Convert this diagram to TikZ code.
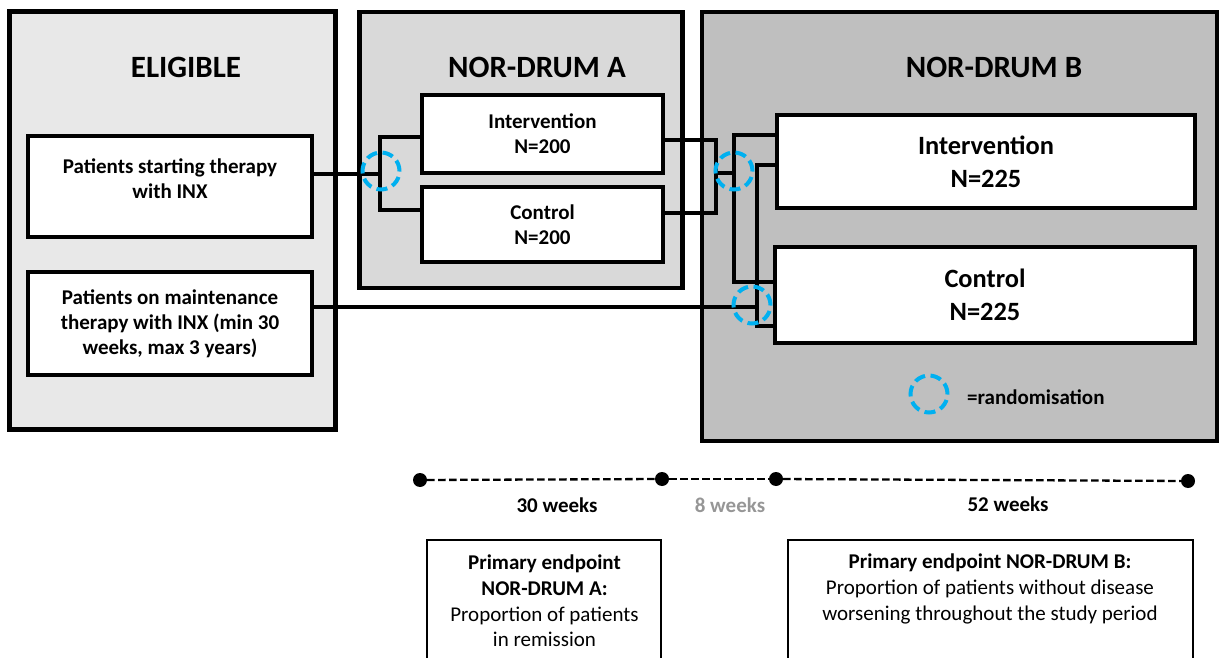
\documentclass[tikz,border=0pt]{standalone}
\usepackage{fontspec}
\setmainfont{Carlito}
\usetikzlibrary{shadows}
\definecolor{eligfill}{RGB}{232,232,232}
\definecolor{afill}{RGB}{217,217,217}
\definecolor{bfill}{RGB}{191,191,191}
\definecolor{randc}{RGB}{0,176,240}
\definecolor{greytxt}{RGB}{150,150,150}
\begin{document}
\begin{tikzpicture}[x=1pt,y=-1pt,
  outerbox/.style={draw=black, line width=4.5pt, rectangle, inner sep=0pt, outer sep=0pt,
    drop shadow={shadow xshift=2pt,shadow yshift=-2pt,opacity=0.2}},
  innerbox/.style={draw=black, fill=white, line width=3.5pt, rectangle, inner sep=0pt, outer sep=0pt, align=center,
    font=\fontsize{21}{25}\selectfont\bfseries,
    drop shadow={shadow xshift=2pt,shadow yshift=-2pt,opacity=0.25}},
  bigbox/.style={innerbox, font=\fontsize{26.4}{33}\selectfont\bfseries},
  titletxt/.style={font=\fontsize{31}{36}\selectfont\bfseries, inner sep=0pt},
  conn/.style={draw=black, line width=3.3pt},
  randcircle/.style={circle, draw=randc, line width=4pt, dash pattern=on 11pt off 5.5pt, minimum size=37pt, inner sep=0pt},
  tdot/.style={circle, fill=black, minimum size=14pt, inner sep=0pt},
  tline/.style={draw=black, line width=2.3pt, dash pattern=on 7.5pt off 3.5pt},
  weektxt/.style={font=\fontsize{21}{25}\selectfont\bfseries, inner sep=0pt},
  epbox/.style={draw=black, line width=1.6pt, rectangle, inner sep=0pt, outer sep=0pt},
  eptxt/.style={font=\fontsize{21}{25.7}\selectfont, align=center, inner sep=0pt}
]
\useasboundingbox (0,0) rectangle (1219,658);

% outer panels
\node[outerbox, fill=eligfill, minimum width=326pt, minimum height=418pt] (elig) at (172.5,220.5) {};
\node[outerbox, fill=afill, minimum width=323pt, minimum height=276pt] (panA) at (521,150) {};
\node[outerbox, fill=bfill, minimum width=515pt, minimum height=429pt] (panB) at (959.5,226.5) {};

\node[titletxt] (tElig) at (186,67) {ELIGIBLE};
\node[titletxt] (tA) at (537,67) {NOR-DRUM A};
\node[titletxt] (tB) at (994,67) {NOR-DRUM B};

% inner boxes
\node[innerbox, minimum width=284pt, minimum height=101pt] (ps) at (170,186.5) {};
\node[font=\fontsize{21}{25}\selectfont\bfseries, align=center, inner sep=0pt] (pst) at (170,179) {Patients starting therapy\\with INX};
\node[innerbox, minimum width=284pt, minimum height=103pt] (pm) at (170,323.5) {Patients on maintenance\\therapy with INX (min 30\\weeks, max 3 years)};

\node[innerbox, minimum width=241pt, minimum height=78pt] (iA) at (542.5,134) {Intervention\\N=200};
\node[innerbox, minimum width=241pt, minimum height=75pt] (cA) at (542.5,224.5) {Control\\N=200};

\node[bigbox, minimum width=418pt, minimum height=93pt] (iB) at (986,161.5) {Intervention\\N=225};
\node[bigbox, minimum width=420pt, minimum height=96pt] (cB) at (985,295) {Control\\N=225};

% connectors: eligible -> NOR-DRUM A
\coordinate (a1) at (380,174);
\coordinate (a1t) at (380,137);
\coordinate (a1b) at (380,210);
\draw[conn] (ps.east |- a1) -- (a1);
\draw[conn] (iA.west |- a1t) -- (a1t) -- (a1b) -- (cA.west |- a1b);

% NOR-DRUM A -> NOR-DRUM B
\coordinate (b1t) at (716,140);
\coordinate (b1b) at (716,213);
\coordinate (b1m) at (716,173);
\coordinate (b2m) at (734,173);
\coordinate (b2t) at (734,135);
\coordinate (b2b) at (734,282);
\draw[conn] (iA.east |- b1t) -- (b1t) -- (b1b) -- (cA.east |- b1b);
\draw[conn] (b1m) -- (b2m);
\draw[conn] (iB.west |- b2t) -- (b2t) -- (b2b) -- (cB.west |- b2b);

% maintenance -> NOR-DRUM B
\coordinate (c1) at (757,307);
\coordinate (c1t) at (757,165);
\coordinate (c1b) at (757,326);
\draw[conn] (pm.east |- c1) -- (c1);
\draw[conn] (iB.west |- c1t) -- (c1t) -- (c1b) -- (cB.west |- c1b);

% randomisation circles
\node[randcircle] (rA) at (381,171) {};
\node[randcircle] (rB1) at (734,171) {};
\node[randcircle] (rB2) at (752,305) {};
\node[randcircle] (rLeg) at (929,394) {};
\node[anchor=west, font=\fontsize{21}{25}\selectfont\bfseries, inner sep=0pt] (legtxt) at (967,397) {=randomisation};

% timeline
\node[tdot] (d1) at (420,480) {};
\node[tdot] (d2) at (662,479) {};
\node[tdot] (d3) at (776,479) {};
\node[tdot] (d4) at (1188,481) {};
\draw[tline] (d1) -- (d2);
\draw[tline] (d2) -- (d3);
\draw[tline] (d3) -- (d4);
\node[weektxt] (w30) at (557,505) {30 weeks};
\node[weektxt, text=greytxt] (w8) at (730,505) {8 weeks};
\node[weektxt] (w52) at (1008,504) {52 weeks};

% endpoint boxes
\node[epbox, minimum width=234pt, minimum height=140pt] (epA) at (544,610) {};
\node[epbox, minimum width=405pt, minimum height=140pt] (epB) at (990.5,610) {};
\node[eptxt] (epAt) at (544.5,601) {\textbf{Primary endpoint}\\\textbf{NOR-DRUM A:}\\Proportion of patients\\in remission};
\node[eptxt] (epBt) at (990,589) {\textbf{Primary endpoint NOR-DRUM B:}\\Proportion of patients without disease\\worsening throughout the study period};
\end{tikzpicture}
\end{document}
